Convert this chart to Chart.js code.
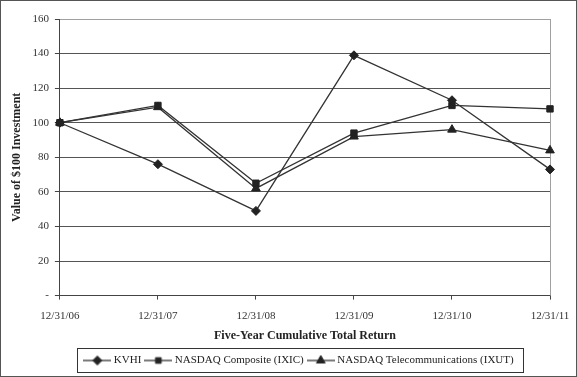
<!DOCTYPE html>
<html lang="en">
<head>
    <meta charset="UTF-8">
    <title>Five-Year Cumulative Total Return</title>
    <script src="https://cdn.jsdelivr.net/npm/chart.js"></script>
    <style>
        body {
            margin: 0;
            padding: 0;
            background: #ffffff;
        }
        canvas {
            display: block;
        }
    </style>
</head>
<body>
    <canvas id="returnChart" width="577" height="377"></canvas>

    <script>
        const dates = ["12/31/06", "12/31/07", "12/31/08", "12/31/09", "12/31/10", "12/31/11"];
        const kvhi = [100, 76, 49, 139, 113, 73];
        const ixic = [100, 110, 65, 94, 110, 108];
        const ixut = [100, 109, 62, 92, 96, 84];
        const yTicks = [0, 20, 40, 60, 80, 100, 120, 140, 160];

        const LINE = "#333333";
        const MARK = "#222222";
        const FONT = "'Liberation Serif', 'Times New Roman', serif";
        const LEGEND_SHIFT = 22;

        // small line+marker swatch for the legend
        function swatch(style, r) {
            const c = document.createElement("canvas");
            c.width = 28;
            c.height = 12;
            const ctx = c.getContext("2d");
            ctx.strokeStyle = LINE;
            ctx.lineWidth = 1.3;
            ctx.beginPath();
            ctx.moveTo(0, 6);
            ctx.lineTo(28, 6);
            ctx.stroke();
            ctx.fillStyle = MARK;
            ctx.strokeStyle = MARK;
            ctx.lineWidth = 1;
            Chart.helpers.drawPoint(ctx, { pointStyle: style, radius: r, borderWidth: 1 }, 14, 6);
            return c;
        }

        const frame = {
            id: "frame",
            afterLayout(chart) {
                // the legend in the original sits a bit right of centre
                chart.legend.left += LEGEND_SHIFT;
                chart.legend.right += LEGEND_SHIFT;
            },
            beforeDatasetsDraw(chart) {
                const { ctx, chartArea } = chart;
                ctx.save();
                ctx.strokeStyle = "#a0a0a0";
                ctx.lineWidth = 1;
                ctx.beginPath();
                ctx.moveTo(chartArea.right + 0.5, chartArea.top);
                ctx.lineTo(chartArea.right + 0.5, chartArea.bottom);
                ctx.stroke();
                ctx.restore();
            },
            afterDraw(chart) {
                const { ctx, legend } = chart;
                ctx.save();
                ctx.strokeStyle = "#555555";
                ctx.lineWidth = 1;
                ctx.strokeRect(0.5, 0.5, chart.width - 1, chart.height - 1);
                const pad = legend.options.labels.padding;
                const rowW = legend.lineWidths[0];
                const start = (legend.left + pad + legend.right - rowW) / 2;
                const boxes = legend.legendHitBoxes;
                if (boxes.length) {
                    const l = Math.round(start) - 8.5;
                    const r = Math.round(start + rowW - pad) + 9.5;
                    const t = Math.round(boxes[0].top) - 6.5;
                    const b = Math.round(boxes[0].top + boxes[0].height) + 6.5;
                    ctx.strokeStyle = "#333333";
                    ctx.strokeRect(l, t, r - l, b - t);
                }
                ctx.restore();
            }
        };

        function series(label, data, style, r) {
            return {
                label,
                data,
                borderColor: LINE,
                borderWidth: 1.3,
                pointStyle: style,
                pointRadius: r,
                pointBackgroundColor: MARK,
                pointBorderColor: MARK,
                pointBorderWidth: 1,
                tension: 0,
                fill: false
            };
        }

        const swatches = [swatch("rectRot", 4.5), swatch("rect", 4), swatch("triangle", 5)];

        new Chart(document.getElementById("returnChart"), {
            type: "line",
            data: {
                labels: dates,
                datasets: [
                    series("KVHI", kvhi, "rectRot", 4.5),
                    series("NASDAQ Composite (IXIC)", ixic, "rect", 4.5),
                    series("NASDAQ Telecommunications (IXUT)", ixut, "triangle", 5)
                ]
            },
            options: {
                responsive: false,
                animation: false,
                layout: { padding: { top: 19, right: 27, left: 6, bottom: 1 } },
                plugins: {
                    tooltip: { enabled: false },
                    legend: {
                        position: "bottom",
                        labels: {
                            usePointStyle: true,
                            pointStyleWidth: 22,
                            boxHeight: 12,
                            padding: 6,
                            color: "#222222",
                            font: { family: FONT, size: 11 },
                            generateLabels(chart) {
                                const items = Chart.defaults.plugins.legend.labels.generateLabels(chart);
                                items.forEach((it, i) => { it.pointStyle = swatches[i]; });
                                return items;
                            }
                        }
                    }
                },
                scales: {
                    x: {
                        offset: false,
                        afterFit(scale) {
                            // let the layout padding decide the right edge
                            scale.paddingRight = 0;
                            scale.paddingLeft = 0;
                        },
                        grid: {
                            drawOnChartArea: false,
                            drawTicks: true,
                            tickLength: 4,
                            tickColor: "#444444"
                        },
                        border: { color: "#444444", width: 1 },
                        ticks: {
                            color: "#333333",
                            font: { family: FONT, size: 11, lineHeight: 1 },
                            padding: 11,
                            maxRotation: 0
                        },
                        title: {
                            display: true,
                            text: "Five-Year Cumulative Total Return",
                            color: "#222222",
                            font: { family: FONT, size: 12, weight: "bold" },
                            padding: { top: -4, bottom: 6 }
                        }
                    },
                    y: {
                        min: 0,
                        max: 160,
                        afterBuildTicks(axis) {
                            axis.ticks = yTicks.map(v => ({ value: v }));
                        },
                        grid: {
                            color: ctx => ctx.tick && ctx.tick.value === 160 ? "#a0a0a0" : "#555555",
                            tickColor: "#444444",
                            tickLength: 5,
                            lineWidth: 1
                        },
                        border: { color: "#444444", width: 1 },
                        ticks: {
                            color: "#333333",
                            font: { family: FONT, size: 11 },
                            padding: 6,
                            callback: v => v === 0 ? "-" : v
                        },
                        title: {
                            display: true,
                            text: "Value of $100 Investment",
                            color: "#222222",
                            font: { family: FONT, size: 12, weight: "bold" },
                            padding: { top: 4, bottom: 2 }
                        }
                    }
                }
            },
            plugins: [frame]
        });
    </script>
</body>
</html>
